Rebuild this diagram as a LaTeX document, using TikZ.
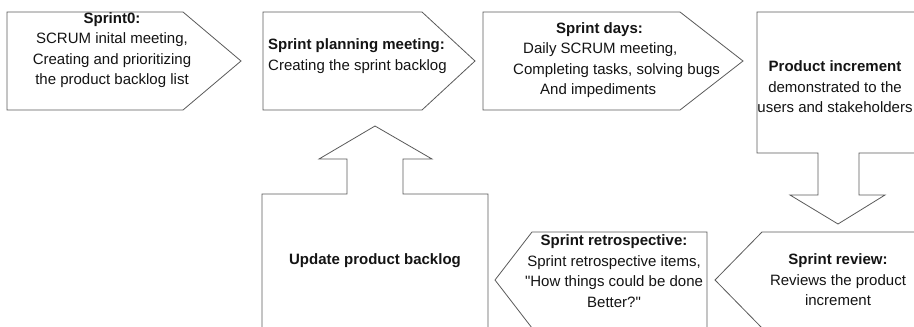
\documentclass[tikz,border=0pt]{standalone}
\usepackage{fontspec}
\setmainfont{Liberation Sans}
\definecolor{edgegray}{RGB}{90,90,90}
\definecolor{inkgray}{RGB}{20,20,20}
\begin{document}
\begin{tikzpicture}[x=1pt,y=-1pt,
  shapeline/.style={draw=edgegray,line width=0.8pt,line join=miter,fill=white},
  label/.style={inner sep=0pt,text=inkgray,font=\fontsize{15}{20.5}\selectfont},
  lefttext/.style={label,align=left},
  midtext/.style={label,align=center}]
\useasboundingbox (0,0) rectangle (914,327);
\clip (0,0) rectangle (914,327);

% top row: forward-pointing process steps
\draw[shapeline] (7,12) -- (183,12) -- (241,61) -- (183,110) -- (7,110) -- cycle;
\draw[shapeline] (263,12) -- (422,12) -- (475,61) -- (422,110) -- (263,110) -- cycle;
\draw[shapeline] (483,12) -- (680,12) -- (743,61) -- (680,110) -- (483,110) -- cycle;

% product increment with downward arrow
\draw[shapeline] (757,12) -- (925,12) -- (925,153) -- (859,153) -- (859,195)
  -- (885,195) -- (838,224) -- (790,195) -- (818,195) -- (818,153) -- (757,153) -- cycle;

% bottom row: backward-pointing steps
\draw[shapeline] (925,232) -- (762,232) -- (715,280) -- (762,328) -- (925,328) -- cycle;
\draw[shapeline] (707,232) -- (532,232) -- (495,280) -- (532,328) -- (707,328) -- cycle;

% update product backlog with upward arrow
\draw[shapeline] (262,340) -- (262,194) -- (347,194) -- (347,159) -- (319,159)
  -- (375,126) -- (432,159) -- (403,159) -- (403,194) -- (488,194) -- (488,340);

% texts
\node[midtext,anchor=north] (s0) at (112,12)
  {\textbf{Sprint0:}\\SCRUM inital meeting,\\Creating and prioritizing\\the product backlog list};
\node[lefttext,anchor=west] (plan) at (268,56)
  {\textbf{Sprint planning meeting:}\\Creating the sprint backlog};
\node[lefttext,anchor=north west] (days) at (513,22)
  {\hspace*{43pt}\textbf{Sprint days:}\\\hspace*{10pt}Daily SCRUM meeting,\\Completing tasks, solving bugs\\\hspace*{27pt}And impediments};
\node[midtext,anchor=center] (prod) at (835,87)
  {\textbf{Product increment}\\demonstrated to the\\users and stakeholders};
\node[midtext,anchor=center] (review) at (838,280)
  {\textbf{Sprint review:}\\Reviews the product\\increment};
\node[midtext,anchor=center] (retro) at (614,271)
  {\textbf{Sprint retrospective:}\\Sprint retrospective items,\\\textquotedbl How things could be done\\Better?\textquotedbl};
\node[midtext,anchor=center] (upd) at (375,261) {\textbf{Update product backlog}};
\end{tikzpicture}
\end{document}
